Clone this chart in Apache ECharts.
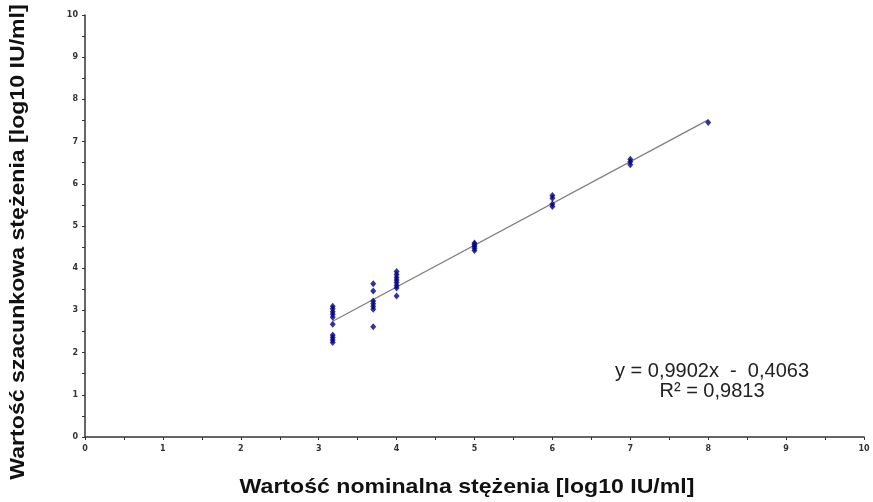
<!DOCTYPE html>
<html>
<head>
<meta charset="utf-8">
<script src="https://cdn.jsdelivr.net/npm/echarts@6/dist/echarts.min.js"></script>
<style>
html,body{margin:0;padding:0;background:#fff;}
#c{width:873px;height:502px;}
</style>
</head>
<body>
<div id="c"></div>
<script>
// Nominal concentration (x) and estimated concentration (y), log10 IU/ml
const xValues = [3.18,3.18,3.18,3.18,3.18,3.18,3.18,3.18,3.18,3.18,
                 3.7,3.7,3.7,3.7,3.7,3.7,3.7,
                 4,4,4,4,4,4,4,4,
                 5,5,5,5,5,
                 6,6,6,6,
                 7,7,7,
                 8];
const yValues = [3.10,3.04,2.97,2.91,2.84,2.67,2.42,2.36,2.30,2.24,
                 3.63,3.46,3.22,3.16,3.09,3.03,2.61,
                 3.92,3.85,3.78,3.72,3.66,3.59,3.53,3.34,
                 4.60,4.56,4.52,4.47,4.42,
                 5.72,5.66,5.52,5.46,
                 6.58,6.52,6.45,
                 7.45];
const slope = 0.9902, intercept = -0.4063;
const trendX = [3.18, 8];
const xTitle = 'Wartość nominalna stężenia [log10 IU/ml]';
const yTitle = 'Wartość szacunkowa stężenia [log10 IU/ml]';
const eqText = 'y = 0,9902x  -  0,4063';
const r2Text = 'R² = 0,9813';

const points = xValues.map((x,i)=>[x,yValues[i]]);
const trend = trendX.map(x=>[x, slope*x+intercept]);

const chart = echarts.init(document.getElementById('c'), null, {renderer:'canvas'});
const axisCommon = {
  type:'value', min:0, max:10, interval:1,
  axisLine:{show:true, lineStyle:{color:'#333', width:1.5}},
  axisTick:{show:true, length:3, lineStyle:{color:'#333'}},
  minorTick:{show:true, splitNumber:2, length:3, lineStyle:{color:'#333'}},
  splitLine:{show:false},
  axisLabel:{color:'#333', fontSize:8, fontFamily:'DejaVu Sans', fontWeight:'bold'}
};
chart.setOption({
  animation:false,
  backgroundColor:'#fff',
  grid:{left:85, right:9, top:15, bottom:65, containLabel:false},
  xAxis:Object.assign({}, axisCommon, {axisLabel:Object.assign({}, axisCommon.axisLabel, {margin:8})}),
  yAxis:Object.assign({}, axisCommon, {axisLabel:Object.assign({}, axisCommon.axisLabel, {margin:7})}),
  series:[
    {type:'line', data:trend, symbol:'none', lineStyle:{color:'#7f7f7f', width:1.3}, z:1},
    {type:'scatter', data:points, symbol:'diamond', symbolSize:[6,7], itemStyle:{color:'#000080'}, z:2}
  ],
  graphic:[
    {type:'text', x:467, y:477, scaleX:1.1, style:{text:xTitle, font:'bold 21px "Liberation Sans", Arial', fill:'#111', align:'center', verticalAlign:'top'}},
    {type:'text', rotation:Math.PI/2, x:8, y:242, scaleX:1.1, style:{text:yTitle, font:'bold 21px "Liberation Sans", Arial', fill:'#111', align:'center', verticalAlign:'top'}},
    {type:'text', x:712, y:361, style:{text:eqText, font:'20px "Liberation Sans", Arial', fill:'#222', align:'center'}},
    {type:'text', x:712, y:381, style:{text:r2Text, font:'20px "Liberation Sans", Arial', fill:'#222', align:'center'}}
  ]
});
</script>
</body>
</html>
